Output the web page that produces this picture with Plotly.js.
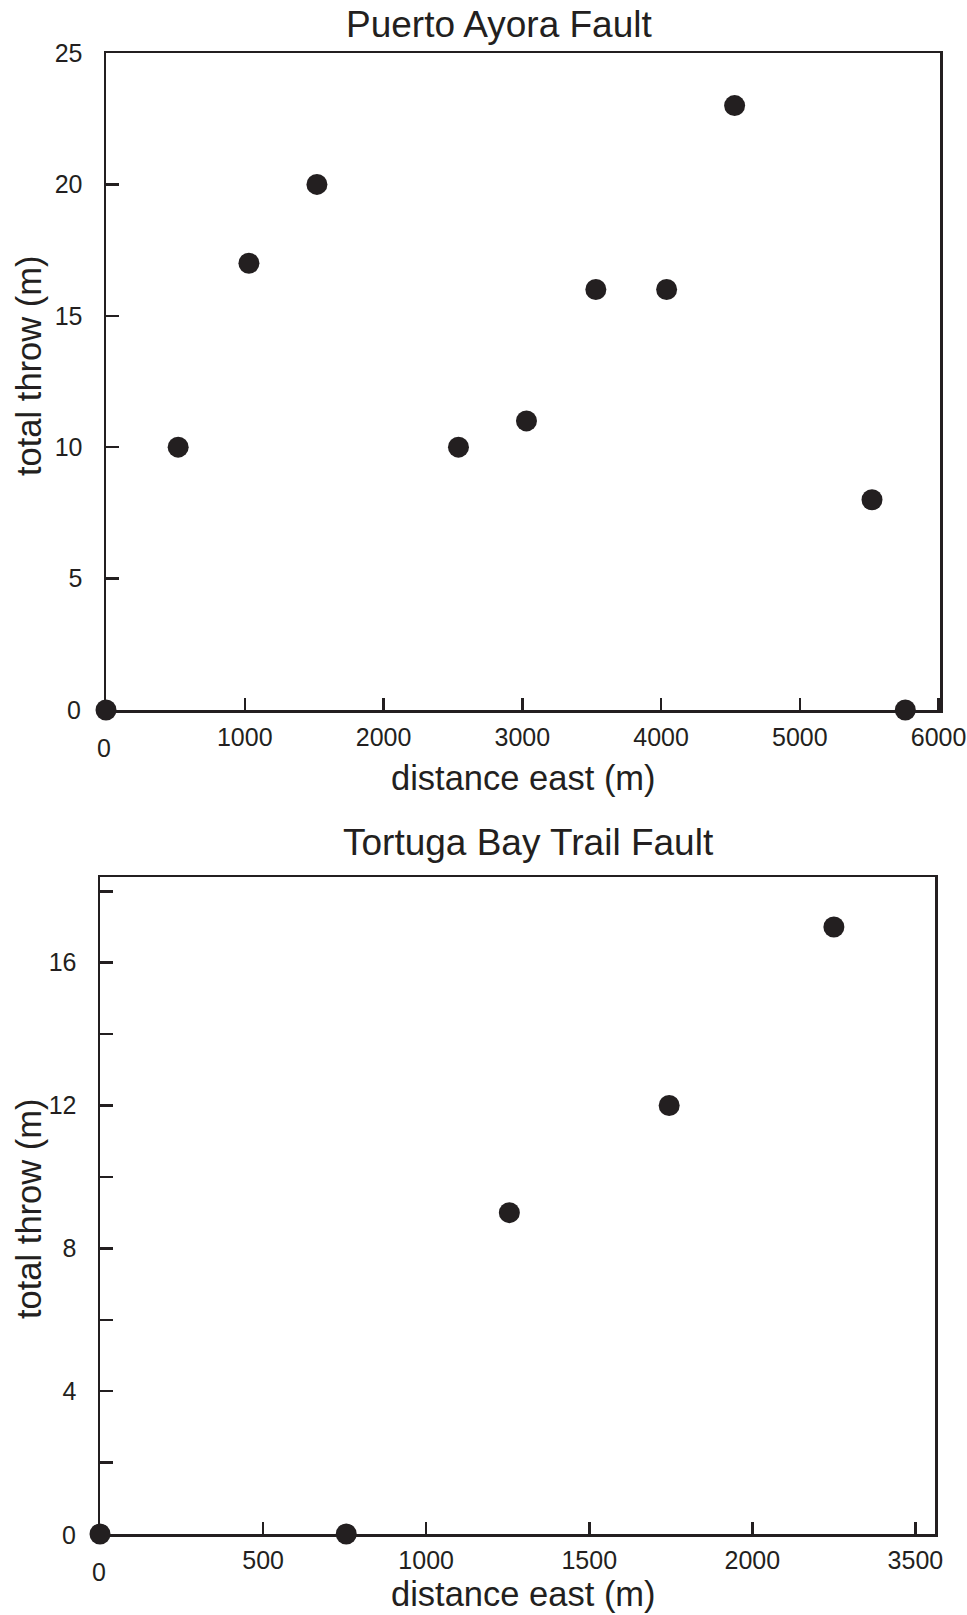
<!DOCTYPE html>
<html>
<head>
<meta charset="utf-8">
<script src="https://cdn.plot.ly/plotly-3.0.1.min.js"></script>
<style>html,body{margin:0;padding:0;background:#fff;}#chart{width:967px;height:1615px;}</style>
</head>
<body>
<div id="chart"></div>
<script>
// Puerto Ayora Fault
const paDistance = [0, 520, 1030, 1520, 2540, 3030, 3530, 4040, 4530, 5520, 5760];
const paThrow    = [0, 10, 17, 20, 10, 11, 16, 16, 23, 8, 0];
const paXTicks = [1000, 2000, 3000, 4000, 5000, 6000];
const paXTickText = ["1000", "2000", "3000", "4000", "5000", "6000"];
const paYTicks = [5, 10, 15, 20, 25];
const paYTickText = ["5", "10", "15", "20", "25"];

// Tortuga Bay Trail Fault
const tbDistance = [0, 755, 1255, 1745, 2250];
const tbThrow    = [0, 0, 9, 12, 17];
const tbXTicks = [500, 1000, 1500, 2000, 2500];
const tbXTickText = ["500", "1000", "1500", "2000", "3500"];
const tbYTicks = [2, 4, 6, 8, 10, 12, 14, 16, 18];
const tbYTickText = ["", "4", "", "8", "", "12", "", "16", ""];

const titles = ["Puerto Ayora Fault", "Tortuga Bay Trail Fault"];
const xTitle = "distance east (m)";
const yTitle = "total throw (m)";

const W = 967, H = 1615;
const INK = "#231f20";
const FONT = "Liberation Sans, Arial, sans-serif";
const px = v => v / W;
const py = v => 1 - v / H;

const marker = {size: 21, color: INK};

const traces = [
  {x: paDistance, y: paThrow, type: "scatter", mode: "markers", marker: marker, xaxis: "x", yaxis: "y", cliponaxis: false, hoverinfo: "x+y"},
  {x: tbDistance, y: tbThrow, type: "scatter", mode: "markers", marker: marker, xaxis: "x2", yaxis: "y2", cliponaxis: false, hoverinfo: "x+y"}
];

function axisBase() {
  return {
    showgrid: false, zeroline: false, showline: true, mirror: true,
    linecolor: INK, linewidth: 2.5,
    ticks: "inside", tickcolor: INK, tickwidth: 2.5, ticklen: 12,
    tickfont: {family: FONT, size: 25, color: INK},
    tickmode: "array"
  };
}

const layout = {
  width: W, height: H,
  margin: {l: 0, r: 0, t: 0, b: 0},
  paper_bgcolor: "#fff", plot_bgcolor: "#fff",
  showlegend: false,
  font: {family: FONT, color: INK},
  xaxis: Object.assign(axisBase(), {
    domain: [px(106), px(940)], range: [0, 6010], anchor: "y",
    tickvals: paXTicks, ticktext: paXTickText, ticklabelstandoff: 3
  }),
  yaxis: Object.assign(axisBase(), {
    domain: [py(710), py(53)], range: [0, 25], anchor: "x",
    tickvals: paYTicks, ticktext: paYTickText, ticklen: 13, ticklabelstandoff: 16
  }),
  xaxis2: Object.assign(axisBase(), {
    domain: [px(100), px(935)], range: [0, 2560], anchor: "y2",
    tickvals: tbXTicks, ticktext: tbXTickText, ticklabelstandoff: 2
  }),
  yaxis2: Object.assign(axisBase(), {
    domain: [py(1534), py(877)], range: [0, 18.4], anchor: "x2",
    tickvals: tbYTicks, ticktext: tbYTickText, ticklen: 13, ticklabelstandoff: 16
  }),
  annotations: [
    {text: titles[0], xref: "paper", yref: "paper", x: px(499), y: py(25), xanchor: "center", yanchor: "middle", showarrow: false, font: {family: FONT, size: 37, color: INK}},
    {text: titles[1], xref: "paper", yref: "paper", x: px(528), y: py(842), xanchor: "center", yanchor: "middle", showarrow: false, font: {family: FONT, size: 37, color: INK}},
    {text: xTitle, xref: "paper", yref: "paper", x: px(523), y: py(778), xanchor: "center", yanchor: "middle", showarrow: false, font: {family: FONT, size: 34.5, color: INK}},
    {text: xTitle, xref: "paper", yref: "paper", x: px(523), y: py(1594), xanchor: "center", yanchor: "middle", showarrow: false, font: {family: FONT, size: 34.5, color: INK}},
    {text: yTitle, xref: "paper", yref: "paper", x: px(29), y: py(366), xanchor: "center", yanchor: "middle", textangle: -90, showarrow: false, font: {family: FONT, size: 34.5, color: INK}},
    {text: yTitle, xref: "paper", yref: "paper", x: px(29), y: py(1209), xanchor: "center", yanchor: "middle", textangle: -90, showarrow: false, font: {family: FONT, size: 34.5, color: INK}},
    // zero labels, offset as in the original figure
    {text: "0", xref: "x", yref: "paper", x: 0, y: py(748), xanchor: "center", yanchor: "middle", xshift: -2, showarrow: false, font: {family: FONT, size: 25, color: INK}},
    {text: "0", xref: "paper", yref: "paper", x: px(83), y: py(710), xanchor: "right", yanchor: "middle", showarrow: false, font: {family: FONT, size: 25, color: INK}},
    {text: "0", xref: "x2", yref: "paper", x: 0, y: py(1572), xanchor: "center", yanchor: "middle", xshift: -1, showarrow: false, font: {family: FONT, size: 25, color: INK}},
    {text: "0", xref: "paper", yref: "paper", x: px(78), y: py(1535), xanchor: "right", yanchor: "middle", showarrow: false, font: {family: FONT, size: 25, color: INK}}
  ]
};

Plotly.newPlot("chart", traces, layout, {staticPlot: true, displayModeBar: false});
</script>
</body>
</html>
